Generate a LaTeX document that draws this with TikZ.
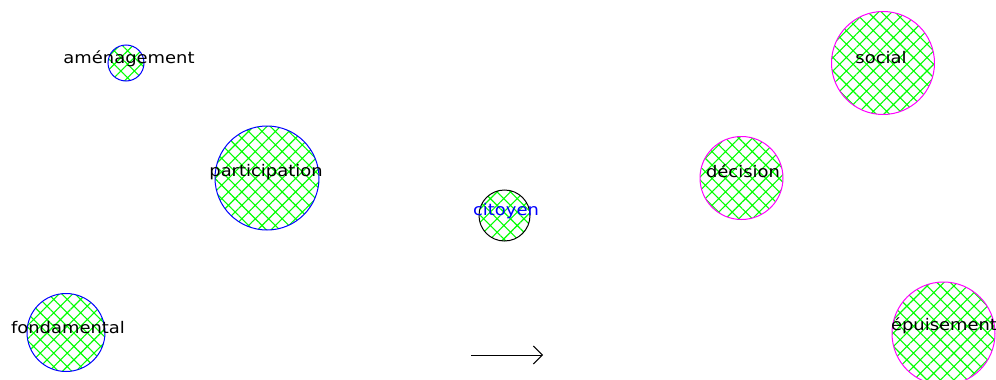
\documentclass[tikz,border=0pt]{standalone}
\usepackage{fontspec}
\usetikzlibrary{patterns.meta,arrows.meta}
\newfontfamily\lab[FakeStretch=1.12]{DejaVu Sans}
\definecolor{hgreen}{RGB}{0,255,0}
\definecolor{hblue}{RGB}{0,0,255}
\definecolor{hmag}{RGB}{255,0,255}
\tikzset{
  bubble/.style={circle,inner sep=0pt,line width=1pt,
    pattern={Hatch[angle=45,distance=9.5pt,line width=1.1pt]},pattern color=hgreen},
  bluebub/.style={bubble,draw=hblue},
  magbub/.style={bubble,draw=hmag},
  blackbub/.style={bubble,draw=black},
  word/.style={anchor=base,inner sep=0pt,font=\lab\fontsize{16}{19}\selectfont,text=black},
  arr/.style={line width=1pt,-{Straight Barb[length=9pt,width=18pt,line width=1pt]}}
}
\begin{document}
\begin{tikzpicture}[x=1pt,y=-1pt]
\useasboundingbox (0,0) rectangle (996,380);
\clip (0,0) rectangle (996,380);
% circles
\node[bluebub,minimum size=36pt] (amenagement) at (126,63) {};
\node[bluebub,minimum size=104pt] (participation) at (267,178) {};
\node[bluebub,minimum size=78pt] (fondamental) at (66,332.5) {};
\node[blackbub,minimum size=51pt] (citoyen) at (504.5,215.5) {};
\node[magbub,minimum size=83pt] (decision) at (741.5,178) {};
\node[magbub,minimum size=103pt] (social) at (883,63) {};
\node[magbub,minimum size=103pt] (epuisement) at (943.5,333.5) {};
% labels
\node[word] (amenagement-l) at (129,63) {aménagement};
\node[word] (participation-l) at (266,176) {participation};
\node[word] (fondamental-l) at (68,333) {fondamental};
\node[word,text=hblue] (citoyen-l) at (506,215) {citoyen};
\node[word] (decision-l) at (743,177) {décision};
\node[word] (social-l) at (881,63) {social};
\node[word] (epuisement-l) at (944,330) {épuisement};
% arrow
\coordinate (a1) at (471,355);
\coordinate (a2) at (543,355);
\draw[arr] (a1) -- (a2);
\end{tikzpicture}
\end{document}
